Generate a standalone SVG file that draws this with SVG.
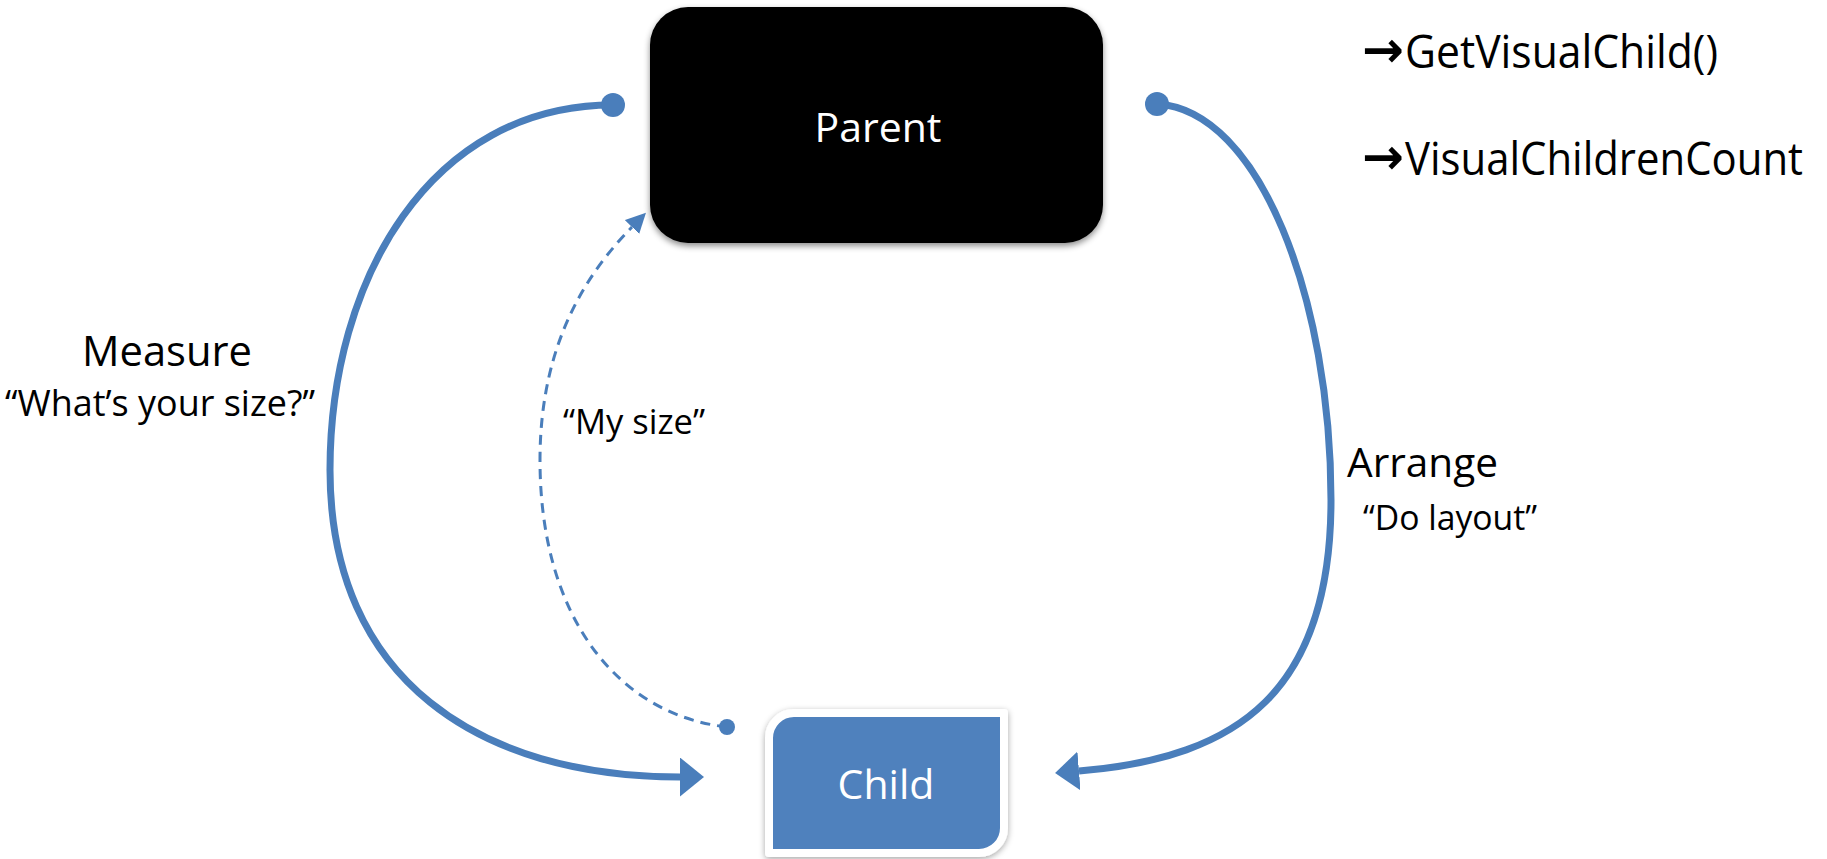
<svg xmlns="http://www.w3.org/2000/svg" width="1827" height="859" viewBox="0 0 1827 859">
  <style>
    .lbl { font-family: "Open Sans", "Liberation Sans", sans-serif; fill: #000; }
    .node-text { font-family: "Open Sans", "Liberation Sans", sans-serif; fill: #fff; text-anchor: middle; }
    .flow { fill: none; stroke: #4A7EBB; stroke-width: 7; }
    .reply { fill: none; stroke: #4A7EBB; stroke-width: 3; stroke-dasharray: 10 7; }
    .dot { fill: #4A7EBB; }
    .sym { font-family: "DejaVu Sans", sans-serif; font-weight: bold; fill: #000; }
  </style>
  <defs>
    <filter id="parentShadow" x="-10%" y="-10%" width="120%" height="125%">
      <feDropShadow dx="0" dy="3" stdDeviation="3" flood-color="#000" flood-opacity="0.45"/>
    </filter>
    <filter id="childShadow" x="-10%" y="-10%" width="120%" height="125%">
      <feDropShadow dx="0" dy="2" stdDeviation="3" flood-color="#000" flood-opacity="0.35"/>
    </filter>
    <marker id="head" markerUnits="userSpaceOnUse" markerWidth="26" markerHeight="40" refX="0" refY="19.5" orient="auto">
      <path d="M0,0 L24,19.5 L0,39 Z" fill="#4A7EBB"/>
    </marker>
    <marker id="headSmall" markerUnits="userSpaceOnUse" markerWidth="22" markerHeight="22" refX="0" refY="10" orient="auto">
      <path d="M0,0 L20,10 L0,20 Z" fill="#4A7EBB"/>
    </marker>
  </defs>

  <rect width="1827" height="859" fill="#fff"/>

  <!-- connectors -->
  <g id="connectors">
    <!-- Measure: parent to child, left loop -->
    <path class="flow" d="M613,105 C430,105 330,280 330,470 C330,680 480,777 680,777" marker-end="url(#head)"/>
    <circle class="dot" cx="613" cy="105" r="12"/>
    <!-- Arrange: parent to child, right loop -->
    <path class="flow" d="M1157,104 C1260,110 1331,300 1331,500 C1331,690 1240,758 1079,771" marker-end="url(#head)"/>
    <circle class="dot" cx="1157" cy="104" r="12"/>
    <!-- size reply: child back to parent -->
    <path class="reply" d="M727,727 C620,715 540,620 540,460 C540,340 590,270 632,227" marker-end="url(#headSmall)"/>
    <circle class="dot" cx="727" cy="727" r="8"/>
  </g>

  <g id="parent">
    <rect x="650" y="7" width="453" height="236" rx="38" ry="38" fill="#050505" filter="url(#parentShadow)"/>
    <text class="node-text" x="878" y="142" font-size="41">Parent</text>
  </g>

  <g id="child">
    <path d="M769,738 A25,25 0 0 1 794,713 L1004,713 L1004,828 A25,25 0 0 1 979,853 L769,853 Z" fill="#4F81BD" stroke="#fff" stroke-width="8" stroke-linejoin="round" filter="url(#childShadow)"/>
    <text class="node-text" x="886" y="799" font-size="41">Child</text>
  </g>

  <g id="labels">
    <text class="lbl" x="82" y="366" font-size="42" textLength="170" lengthAdjust="spacingAndGlyphs">Measure</text>
    <text class="lbl" x="5" y="416" font-size="36" textLength="310" lengthAdjust="spacingAndGlyphs">“What’s your size?”</text>
    <text class="lbl" x="563" y="434" font-size="34" textLength="142" lengthAdjust="spacingAndGlyphs">“My size”</text>
    <text class="lbl" x="1347" y="477" font-size="41" textLength="151" lengthAdjust="spacingAndGlyphs">Arrange</text>
    <text class="lbl" x="1363" y="530" font-size="34" textLength="174" lengthAdjust="spacingAndGlyphs">“Do layout”</text>
  </g>

  <g id="api-notes">
    <text class="sym" x="1362" y="67" font-size="50">→</text>
    <text class="lbl" x="1405" y="68" font-size="46" textLength="313" lengthAdjust="spacingAndGlyphs">GetVisualChild()</text>
    <text class="sym" x="1362" y="174" font-size="50">→</text>
    <text class="lbl" x="1405" y="175" font-size="46" textLength="398" lengthAdjust="spacingAndGlyphs">VisualChildrenCount</text>
  </g>
</svg>
